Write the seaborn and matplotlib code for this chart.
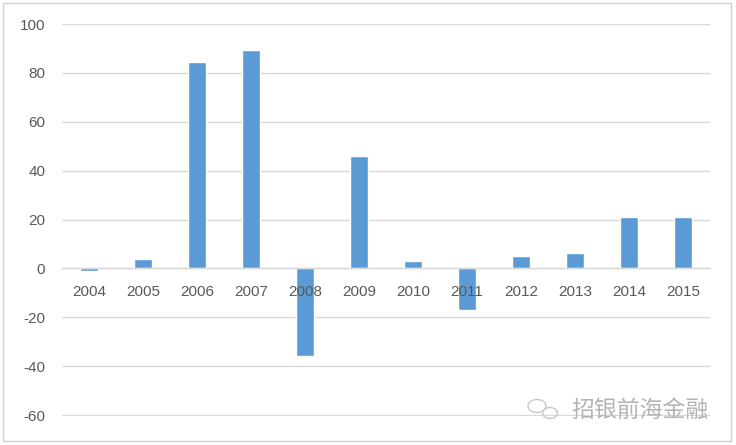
import pandas as pd
import matplotlib
matplotlib.use("Agg")
import matplotlib.pyplot as plt
import seaborn as sns
from matplotlib.patches import Rectangle, Ellipse

years = ["2004", "2005", "2006", "2007", "2008", "2009",
         "2010", "2011", "2012", "2013", "2014", "2015"]
values = [-1.2, 3.7, 84.6, 89.5, -36.0, 45.8,
          3.0, -17.1, 5.0, 6.4, 21.1, 21.0]
y_ticks = [-60, -40, -20, 0, 20, 40, 60, 80, 100]
watermark = "招银前海金融"

df = pd.DataFrame({"year": years, "value": values})

sns.set_theme(style="white")
plt.rcParams["font.family"] = ["Liberation Sans", "DejaVu Sans"]

W, H = 736, 445
fig = plt.figure(figsize=(W / 100, H / 100), dpi=100)
ax = fig.add_axes([62 / W, 1 - 416 / H, (710 - 62) / W, (416 - 24) / H])

sns.barplot(data=df, x="year", y="value", color="#5B9BD5", saturation=1,
            width=0.33, ax=ax)

ax.set_ylim(-60.4, 100)
ax.set_yticks(y_ticks)
ax.set_yticklabels([str(t) for t in y_ticks])
ax.set_xlabel("")
ax.set_ylabel("")
ax.grid(axis="y", color="#d9d9d9", linewidth=1)
ax.set_axisbelow(True)

for side in ["top", "right", "left"]:
    ax.spines[side].set_visible(False)
ax.spines["bottom"].set_position(("data", 0))
ax.spines["bottom"].set_color("#d9d9d9")
ax.spines["bottom"].set_linewidth(1)

# year labels sit just under the zero line, drawn above the bars
ax.set_xticklabels([])
ax.tick_params(axis="x", length=0)
for i, yr in enumerate(years):
    ax.annotate(yr, (i, 0), xytext=(0, -24), textcoords="offset pixels",
                ha="center", va="center", fontsize=11, color="#595959",
                zorder=5)
ax.tick_params(axis="y", length=0, pad=12, labelsize=11, labelcolor="#595959")

# outer chart border
fig.patches.append(Rectangle((3 / W, 1 - 441 / H), 728 / W, 438 / H,
                             transform=fig.transFigure, fill=False,
                             edgecolor="#d0d0d0", linewidth=1))

# watermark (wechat-ish icon + name)
fig.patches.append(Ellipse((537 / W, 1 - 406 / H), 18 / W, 13 / H,
                           transform=fig.transFigure, fill=False,
                           edgecolor="#c8c8c8", linewidth=1))
fig.patches.append(Ellipse((550 / W, 1 - 413 / H), 15 / W, 11 / H,
                           transform=fig.transFigure, fill=False,
                           edgecolor="#c8c8c8", linewidth=1))
fig.text(571 / W, 1 - 410 / H, watermark, fontsize=16.5, color="#b4b4b4",
         va="center", ha="left", family=["Noto Sans CJK SC", "DejaVu Sans"])

fig.savefig("out.png", dpi=100)
